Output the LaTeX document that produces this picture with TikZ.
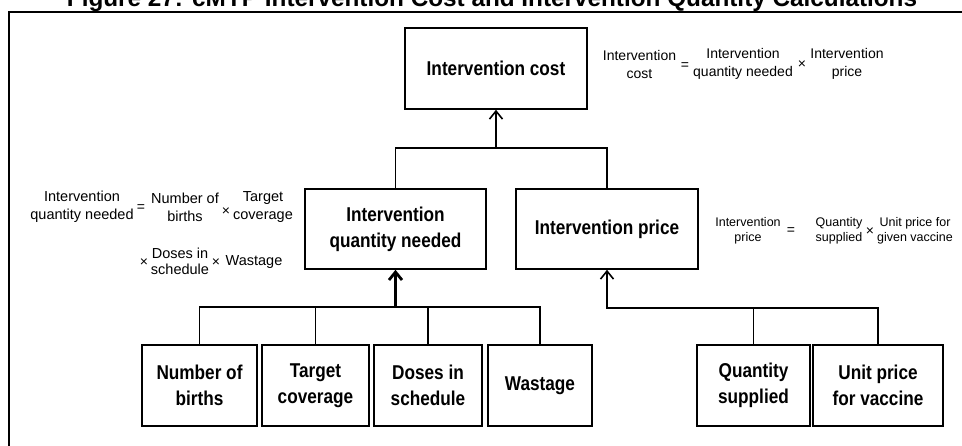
\documentclass[tikz,border=0pt]{standalone}
\usepackage{fontspec}
\setmainfont{Liberation Sans}
\newfontfamily\boxfont{Liberation Sans}[FakeStretch=0.86]
\usetikzlibrary{arrows.meta}
\begin{document}
\begin{tikzpicture}[x=1pt,y=-1pt,
  box/.style={draw,line width=1.6pt,font=\boxfont\bfseries\fontsize{20}{26}\selectfont,align=center,inner sep=0pt},
  conn/.style={line width=1.6pt},
  arr/.style={line width=1.6pt,-{Straight Barb[length=8pt,width=13pt]}},
  thickarr/.style={line width=2.8pt,-{Straight Barb[length=8pt,width=13pt]}},
  fone/.style={font=\fontsize{14}{18}\selectfont,align=center,inner sep=0pt},
  ftwo/.style={font=\fontsize{14.5}{18}\selectfont,align=center,inner sep=0pt},
  ftwob/.style={font=\fontsize{14.5}{16}\selectfont,align=center,inner sep=0pt},
  fthree/.style={font=\fontsize{12.5}{15}\selectfont,align=center,inner sep=0pt},
  op/.style={font=\fontsize{14}{15}\selectfont,inner sep=0pt}]
\useasboundingbox (0,0) rectangle (962,445);
\fill[white] (0,0) rectangle (962,445);
\clip (0,0) rectangle (962,445);
% title and frame
\node[font=\bfseries\fontsize{24.3}{28}\selectfont,anchor=base,inner sep=0pt] (title) at (492,6) {Figure 27: cMYP Intervention Cost and Intervention Quantity Calculations};
\draw[line width=1.5pt] (9,446) -- (9,12) -- (963,12);
% boxes
\node[box,minimum width=182pt,minimum height=81pt] (cost) at (496,68.5) {Intervention cost};
\node[box,minimum width=181pt,minimum height=80pt] (qty) at (395.5,229) {Intervention\\quantity needed};
\node[box,minimum width=182pt,minimum height=80pt] (price) at (607,229) {Intervention price};
\node[box,minimum width=115pt,minimum height=81pt] (births) at (199.5,385.5) {Number of\\births};
\node[box,minimum width=107pt,minimum height=81pt] (target) at (315.5,385.5) {Target\\coverage};
\node[box,minimum width=108pt,minimum height=81pt] (doses) at (428,385.5) {Doses in\\schedule};
\node[box,minimum width=104pt,minimum height=81pt] (wastage) at (540,385.5) {Wastage};
\node[box,minimum width=113pt,minimum height=81pt] (qsup) at (753.5,385.5) {Quantity\\supplied};
\node[box,minimum width=130pt,minimum height=81pt] (unit) at (878,385.5) {Unit price\\for vaccine};
% connectors
\coordinate (j1) at (496,148);
\coordinate (j2) at (395.5,307);
\coordinate (j3) at (607,308);
\draw[conn] (qty.north) |- (price.north |- j1) -- (price.north);
\draw[arr] (j1) -- (cost.south);
\draw[conn] (births.north) |- (wastage.north |- j2) -- (wastage.north);
\draw[conn] (target.north) -- (target.north |- j2);
\draw[conn] (doses.north) -- (doses.north |- j2);
\draw[thickarr] (j2) -- (qty.south);
\draw[conn] (qsup.north) -- (qsup.north |- j3);
\draw[arr] (unit.north) |- (j3) -- (price.south);
% formula 1
\node[fone] (f1a) at (639.5,64) {Intervention\\cost};
\node[op] (f1eq) at (685,66) {=};
\node[fone] (f1b) at (743,64) {Intervention\\quantity needed};
\node[op] (f1x) at (802,65) {×};
\node[fone] (f1c) at (847,64) {Intervention\\price};
% formula 2
\node[ftwo] (f2a) at (82,207) {Intervention\\quantity needed};
\node[op] (f2eq) at (141,208) {=};
\node[ftwo] (f2b) at (185,207) {Number of\\births};
\node[op] (f2x1) at (226,212) {×};
\node[ftwo] (f2c) at (263,207) {Target\\coverage};
\node[op] (f2x2) at (144,263) {×};
\node[ftwob] (f2d) at (180,261) {Doses in\\schedule};
\node[op] (f2x3) at (216,263) {×};
\node[op,font=\fontsize{14.5}{16}\selectfont] (f2e) at (254,262) {Wastage};
% formula 3
\node[fthree] (f3a) at (748,230.5) {Intervention\\price};
\node[op] (f3eq) at (791,231) {=};
\node[fthree] (f3b) at (839,230.5) {Quantity\\supplied};
\node[op] (f3x) at (870,232) {×};
\node[fthree] (f3c) at (915,230.5) {Unit price for\\given vaccine};
\end{tikzpicture}
\end{document}
